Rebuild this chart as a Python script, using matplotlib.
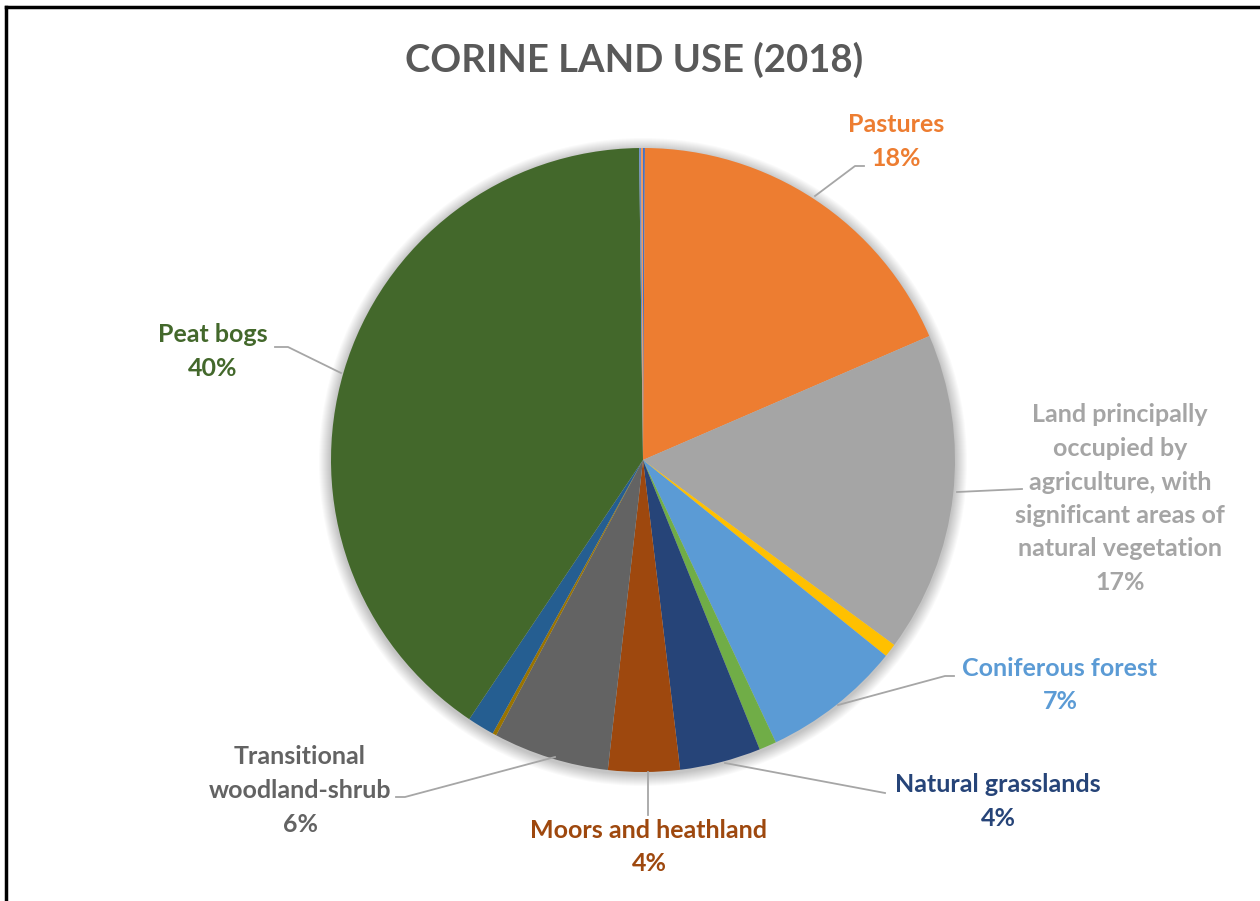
import matplotlib.pyplot as plt
from matplotlib.patches import Circle

# CORINE 2018 land cover shares (%), clockwise from 12 o'clock
classes = [
    "Discontinuous urban fabric",
    "Pastures",
    "Land principally\noccupied by\nagriculture, with\nsignificant areas of\nnatural vegetation",
    "Non-irrigated arable land",
    "Coniferous forest",
    "Broad-leaved forest",
    "Natural grasslands",
    "Moors and heathland",
    "Transitional\nwoodland-shrub",
    "Mixed forest",
    "Water bodies",
    "Peat bogs",
    "Inland marshes",
    "Bare rocks",
]
shares = [0.1, 18.4, 16.6, 0.7, 7.2, 0.9, 4.2, 3.7, 6.0, 0.2, 1.4, 40.4, 0.1, 0.1]
colors = ["#4472C4", "#ED7D31", "#A5A5A5", "#FFC000", "#5B9BD5", "#70AD47",
          "#264478", "#9E480E", "#636363", "#997300", "#255E91", "#43682B",
          "#698ED0", "#F1975A"]

# which slices get a label: index -> (text centre x, y of first line, leader line points)
W, H = 1260, 901
labelled = {
    1: ((896, 125), [(815, 196), (855, 166), (864, 166)]),
    2: ((1120, 415), [(957, 492), (1022, 489)]),
    4: ((1060, 668), [(838, 705), (945, 676), (954, 676)]),
    6: ((998, 785), [(725, 763), (885, 793)]),
    7: ((649, 830), [(648, 772), (648, 815)]),
    8: ((300, 757), [(555, 757), (405, 797), (396, 797)]),
    11: ((213, 335), [(341, 373), (288, 347), (275, 347)]),
}
label_colors = {1: "#ED7D31", 2: "#A5A5A5", 4: "#5B9BD5", 6: "#264478",
                7: "#9E480E", 8: "#636363", 11: "#43682B"}

plt.rcParams['font.family'] = ['Lato', 'DejaVu Sans']

fig = plt.figure(figsize=(12.6, 9.01), dpi=100)
ax = fig.add_axes([0, 0, 1, 1])

cx, cy, r = 643, H - 460, 312

# soft drop shadow behind the pie
for i in range(12):
    ax.add_patch(Circle((cx, cy - 2), r + 12 - i, color='black',
                        alpha=0.018, lw=0, zorder=1))

ax.pie(shares, colors=colors, startangle=90, counterclock=False,
       center=(cx, cy), radius=r, frame=True,
       wedgeprops=dict(linewidth=0, zorder=2))
ax.set_xlim(0, W)
ax.set_ylim(0, H)
ax.set_aspect('equal')
ax.axis('off')

line_h = 33.5
for idx, ((tx, ty), pts) in labelled.items():
    text = classes[idx] + "\n" + f"{round(shares[idx])}%"
    for k, line in enumerate(text.split("\n")):
        ax.text(tx, H - ty - k * line_h, line, ha='center', va='center',
                fontsize=18, fontweight='bold', color=label_colors[idx])
    xs = [p[0] for p in pts]
    ys = [H - p[1] for p in pts]
    ax.plot(xs, ys, color='#A6A6A6', lw=1.3, zorder=3)

ax.text(634, H - 60, "CORINE LAND USE (2018)", ha='center', va='center',
        fontsize=27.5, fontweight='bold', color='#595959')

# frame edges on top and left
fig.add_artist(plt.Line2D([6 / W, 1], [1 - 7 / H, 1 - 7 / H], color='black',
                          lw=2.5, transform=fig.transFigure))
fig.add_artist(plt.Line2D([6 / W, 6 / W], [0, 1 - 7 / H], color='black',
                          lw=2.5, transform=fig.transFigure))

fig.savefig("out.png", dpi=100, facecolor='white')
